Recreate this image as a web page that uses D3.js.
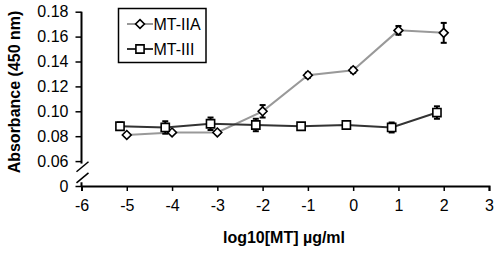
<!DOCTYPE html>
<html>
<head>
<meta charset="utf-8">
<script src="https://cdn.jsdelivr.net/npm/d3@7"></script>
<style>
  body { margin: 0; background: #fff; }
  svg { display: block; font-family: "Liberation Sans", Arial, Helvetica, sans-serif; }
</style>
</head>
<body>
<div id="chart"></div>
<script>
// data
const xTicks = [-6, -5, -4, -3, -2, -1, 0, 1, 2, 3];
const yTicks = [0.04, 0.06, 0.08, 0.10, 0.12, 0.14, 0.16, 0.18]; // 0.04 slot is labelled "0" (broken axis)

const mt2aX = [-5, -4, -3, -2, -1, 0, 1, 2];
const mt2aY = [0.081, 0.083, 0.083, 0.100, 0.129, 0.133, 0.165, 0.163];
const mt2aErr = [0.001, 0.001, 0.001, 0.005, 0.002, 0.002, 0.0035, 0.008];

const mt3X = [-5.15, -4.15, -3.15, -2.15, -1.15, -0.15, 0.85, 1.85];
const mt3Y = [0.088, 0.087, 0.090, 0.089, 0.088, 0.089, 0.087, 0.099];
const mt3Err = [0.003, 0.005, 0.005, 0.005, 0.002, 0.003, 0.004, 0.005];

const W = 498, H = 253;
const svg = d3.select("#chart").append("svg")
  .attr("width", W)
  .attr("height", H);

const x = d3.scaleLinear().domain([-6, 3]).range([81.5, 489]);
const y = d3.scaleLinear().domain([0.04, 0.18]).range([186, 11.7]);

const axisColor = "#000";

// x axis (plain hyphen for negatives, like the original)
const xAxis = svg.append("g")
  .attr("transform", `translate(0,${y(0.04)})`)
  .call(d3.axisBottom(x).tickValues(xTicks).tickSize(5).tickPadding(9).tickFormat(d => String(d)));
xAxis.select(".domain").attr("stroke-width", 2);
xAxis.selectAll(".tick line").attr("stroke-width", 1.5);
xAxis.selectAll("text").style("font-size", "16px").attr("fill", "#000");

// y axis (domain drawn by hand because of the break)
const yAxis = svg.append("g")
  .attr("transform", `translate(${x(-6)},0)`)
  .call(d3.axisLeft(y).tickValues(yTicks).tickSize(6).tickPadding(7)
    .tickFormat(d => d === 0.04 ? "0" : d3.format(".2f")(d)));
yAxis.select(".domain").remove();
yAxis.selectAll(".tick line").attr("stroke-width", 1.5);
yAxis.selectAll("text").style("font-size", "16px").attr("fill", "#000");

const ax = x(-6);
svg.append("line")
  .attr("x1", ax).attr("x2", ax)
  .attr("y1", y(0.18)).attr("y2", y(0.058))
  .attr("stroke", axisColor).attr("stroke-width", 2);
svg.append("line")
  .attr("x1", ax).attr("x2", ax)
  .attr("y1", y(0.043)).attr("y2", y(0.04) + 1)
  .attr("stroke", axisColor).attr("stroke-width", 2);

// break marks
[0.0555, 0.0465].forEach(v => {
  svg.append("line")
    .attr("x1", ax - 5).attr("y1", y(v) + 5)
    .attr("x2", ax + 7).attr("y2", y(v) - 5)
    .attr("stroke", axisColor).attr("stroke-width", 1.5);
});

// axis titles
svg.append("text")
  .attr("x", 284)
  .attr("y", 243)
  .attr("text-anchor", "middle")
  .style("font-size", "16px")
  .style("font-weight", "bold")
  .text("log10[MT] \u00b5g/ml");

svg.append("text")
  .attr("transform", "translate(20,92) rotate(-90)")
  .attr("text-anchor", "middle")
  .style("font-size", "16px")
  .style("font-weight", "bold")
  .text("Absorbance (450 nm)");

// series
const series = [
  { name: "MT-IIA", xs: mt2aX, ys: mt2aY, errs: mt2aErr, color: "#999999", symbol: d3.symbolDiamond2, size: 50 },
  { name: "MT-III", xs: mt3X, ys: mt3Y, errs: mt3Err, color: "#333333", symbol: d3.symbolSquare2, size: 85 }
];

const line = d3.line().x(d => x(d.x)).y(d => y(d.y));

series.forEach(s => {
  const pts = s.xs.map((v, i) => ({ x: v, y: s.ys[i], e: s.errs[i] }));
  const g = svg.append("g");

  g.append("path")
    .datum(pts)
    .attr("fill", "none")
    .attr("stroke", s.color)
    .attr("stroke-width", 2)
    .attr("d", line);

  // error bars
  const eb = g.selectAll(".eb").data(pts).enter().append("g");
  eb.append("line")
    .attr("x1", d => x(d.x)).attr("x2", d => x(d.x))
    .attr("y1", d => y(d.y - d.e)).attr("y2", d => y(d.y + d.e))
    .attr("stroke", "#000").attr("stroke-width", 2);
  eb.append("line")
    .attr("x1", d => x(d.x) - 3).attr("x2", d => x(d.x) + 3)
    .attr("y1", d => y(d.y + d.e)).attr("y2", d => y(d.y + d.e))
    .attr("stroke", "#000").attr("stroke-width", 2);
  eb.append("line")
    .attr("x1", d => x(d.x) - 3).attr("x2", d => x(d.x) + 3)
    .attr("y1", d => y(d.y - d.e)).attr("y2", d => y(d.y - d.e))
    .attr("stroke", "#000").attr("stroke-width", 2);

  g.selectAll(".pt").data(pts).enter().append("path")
    .attr("transform", d => `translate(${x(d.x)},${y(d.y)})`)
    .attr("d", d3.symbol().type(s.symbol).size(s.size))
    .attr("fill", "#fff")
    .attr("stroke", "#000")
    .attr("stroke-width", 1.6);
});

// legend
const legend = svg.append("g");
legend.append("rect")
  .attr("x", 118.5).attr("y", 8.5)
  .attr("width", 87.5).attr("height", 54)
  .attr("fill", "#fff")
  .attr("stroke", "#000")
  .attr("stroke-width", 1.5);

series.forEach((s, i) => {
  const ly = 24 + i * 25;
  legend.append("line")
    .attr("x1", 127).attr("x2", 153)
    .attr("y1", ly).attr("y2", ly)
    .attr("stroke", s.color).attr("stroke-width", 2);
  legend.append("path")
    .attr("transform", `translate(140,${ly})`)
    .attr("d", d3.symbol().type(s.symbol).size(s.size))
    .attr("fill", "#fff")
    .attr("stroke", "#000")
    .attr("stroke-width", 1.6);
  legend.append("text")
    .attr("x", 153.5)
    .attr("y", ly)
    .attr("dy", "0.36em")
    .style("font-size", "16px")
    .text(s.name);
});
</script>
</body>
</html>
